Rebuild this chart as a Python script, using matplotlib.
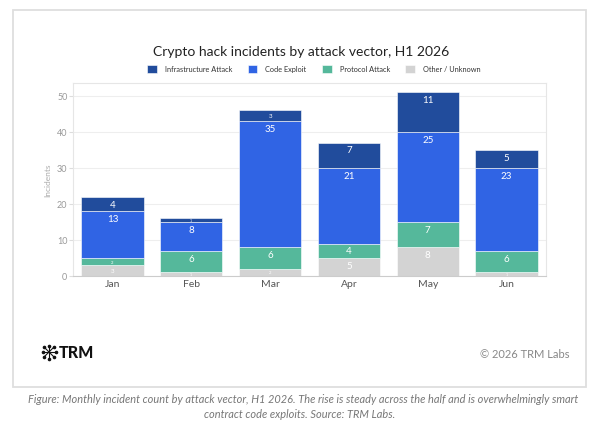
import matplotlib
matplotlib.use("Agg")
import matplotlib.pyplot as plt
from matplotlib.patches import Rectangle
import numpy as np

plt.rcParams['font.family'] = ['Lato', 'DejaVu Sans']

months = ["Jan", "Feb", "Mar", "Apr", "May", "Jun"]
other = [3, 1, 2, 5, 8, 1]
protocol = [2, 6, 6, 4, 7, 6]
code = [13, 8, 35, 21, 25, 23]
infra = [4, 1, 3, 7, 11, 5]

series_names = ["Other / Unknown", "Protocol Attack", "Code Exploit", "Infrastructure Attack"]
series_vals = [other, protocol, code, infra]
colors = ["#d3d3d3", "#55b89b", "#3064e4", "#214c9c"]

W, H = 600, 427
fig = plt.figure(figsize=(6.0, 4.27), dpi=100)

# card
card = Rectangle((13 / W, 1 - 388 / H), (586 - 13) / W, (388 - 11) / H,
                 transform=fig.transFigure, facecolor="none", edgecolor="#dedede",
                 linewidth=1.3, zorder=-10)
fig.patches.append(card)

ax = fig.add_axes([73 / W, 1 - 277 / H, (546 - 73) / W, (277 - 84) / H])
ax.set_zorder(5)
ymax = 53.6
x = np.arange(len(months))
bottom = np.zeros(len(months))
px_per_unit = (277 - 84) / ymax
for name, vals, col in zip(series_names, series_vals, colors):
    vals = np.array(vals, dtype=float)
    ax.bar(x, vals, bottom=bottom, width=0.79, color=col, label=name, zorder=2,
           edgecolor="white", linewidth=0.4)
    for xi, v, b in zip(x, vals, bottom):
        seg_px = v * px_per_unit
        top = b + v
        if seg_px >= 14:
            ax.annotate(f"{int(v)}", (xi, top), xytext=(0, -5.2), textcoords="offset points",
                        ha="center", va="center", color="white", fontsize=7, zorder=3)
        else:
            fs = max(seg_px * 0.42, 2.5)
            ax.text(xi, b + v / 2, f"{int(v)}", ha="center", va="center",
                    color="white", fontsize=fs, zorder=3)
    bottom += vals

ax.set_xlim(-0.5, 5.5)
ax.set_ylim(0, ymax)
ax.set_xticks(x)
ax.set_xticklabels(months)
ax.set_yticks([0, 10, 20, 30, 40, 50])
ax.tick_params(axis="x", length=0, labelsize=7.5, labelcolor="#555555", pad=2)
ax.tick_params(axis="y", length=3, color="#dddddd", labelsize=6.5, labelcolor="#999999", pad=1)
ax.grid(axis="y", color="#eeeeee", linewidth=0.8, zorder=0)
for s in ax.spines.values():
    s.set_color("#e6e6e6")
    s.set_linewidth(0.8)
ax.spines["bottom"].set_color("#cccccc")
ax.set_ylabel("Incidents", fontsize=6, color="#aaaaaa", labelpad=4)

# title
fig.text(301 / W, 1 - 52 / H, "Crypto hack incidents by attack vector, H1 2026",
         ha="center", va="center", fontsize=10, color="#222222")

# legend
handles, labels = ax.get_legend_handles_labels()
order = [3, 2, 1, 0]
leg = fig.legend([handles[i] for i in order], [labels[i] for i in order],
                 loc="center", bbox_to_anchor=(314 / W, 1 - 70 / H), ncol=4, frameon=False,
                 fontsize=5.3, handlelength=1.3, handleheight=1.3, columnspacing=2.1,
                 handletextpad=1.1, labelcolor="#333333")

# footer logo
cx, cy, r = 49 / W, 1 - 353 / H, 6.5
for k in range(8):
    a = k * np.pi / 4
    dx, dy = np.cos(a) * r / W, np.sin(a) * r / H
    fig.lines.append(plt.Line2D([cx, cx + dx], [cy, cy + dy], transform=fig.transFigure,
                                color="#111111", linewidth=0.8))
    fig.lines.append(plt.Line2D([cx + dx], [cy + dy], transform=fig.transFigure, marker="o",
                                markersize=1.6, color="#111111", linewidth=0))
fig.text(59 / W, 1 - 353 / H, "TRM", ha="left", va="center", fontsize=11.5,
         fontweight="black", color="#111111")
fig.text(569 / W, 1 - 354 / H, "© 2026 TRM Labs", ha="right", va="center",
         fontsize=8, color="#888888")

# caption
fig.text(303 / W, 1 - 400 / H,
         "Figure: Monthly incident count by attack vector, H1 2026. The rise is steady across the half and is overwhelmingly smart",
         ha="center", va="center", fontsize=7.9, style="italic", color="#777777")
fig.text(300 / W, 1 - 415 / H, "contract code exploits. Source: TRM Labs.",
         ha="center", va="center", fontsize=7.9, style="italic", color="#777777")

fig.savefig("out.png", dpi=100, facecolor="white")
